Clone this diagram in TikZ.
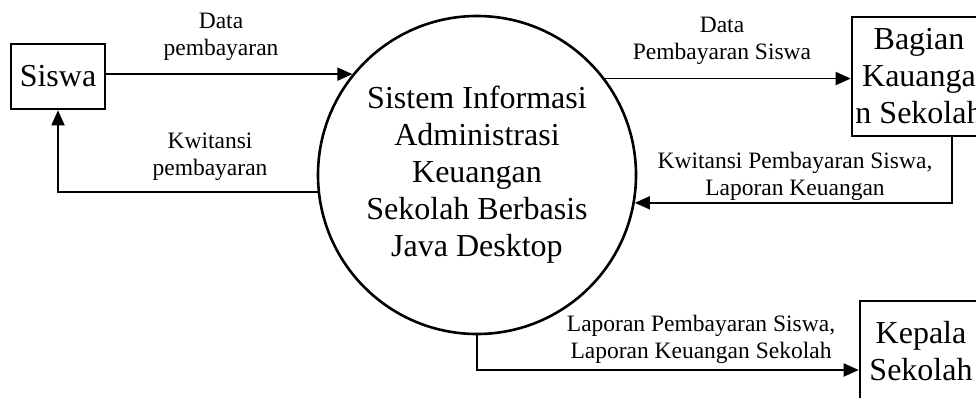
\documentclass[tikz,border=0pt]{standalone}
\usepackage{fontspec}
\setmainfont{Liberation Serif}
\usetikzlibrary{arrows.meta}
\begin{document}
\begin{tikzpicture}[x=1pt,y=-1pt,
  ent/.style={draw,line width=2.6pt,rectangle,inner sep=0pt,align=center,font=\fontsize{32}{37}\selectfont},
  proc/.style={draw,line width=2.6pt,circle,inner sep=0pt,minimum size=318pt,align=center,font=\fontsize{32}{37}\selectfont},
  lbl/.style={align=center,inner sep=0pt,font=\fontsize{23.5}{27}\selectfont},
  flow/.style={line width=1.8pt,-{Triangle[length=15pt,width=13pt]}}]
\useasboundingbox (0,0) rectangle (976,397);
\clip (0,0) rectangle (976,397);
\node[ent,minimum width=94pt,minimum height=65pt] (siswa) at (58,76.5) {Siswa};
\node[proc] (sys) at (477,175) {Sistem Informasi\\Administrasi\\Keuangan\\Sekolah Berbasis\\Java Desktop};
\node[ent,minimum width=134pt,minimum height=119pt] (bag) at (919,76.5) {Bagian\\Kauanga\\n Sekolah};
\node[ent,minimum width=122pt,minimum height=100pt] (kep) at (921,351) {Kepala\\Sekolah};
\coordinate (b1) at ([xshift=33pt]bag.south);
\coordinate (k1) at ([yshift=-19pt]kep.west);
\draw[flow] (siswa.east |- sys.141) -- (sys.141);
\draw[flow] (sys.186) -| (siswa.south);
\draw[flow] (sys.37.6) -- (sys.37.6 -| bag.west);
\draw[flow] (b1) |- (sys.-10.9);
\draw[flow] (sys.south) |- (k1);
\node[lbl] (l1) at (221,36.5) {Data\\pembayaran};
\node[lbl] (l2) at (210,156.5) {Kwitansi\\pembayaran};
\node[lbl] (l3) at (722,40.5) {Data\\Pembayaran Siswa};
\node[lbl] (l4) at (795,176.5) {Kwitansi Pembayaran Siswa,\\Laporan Keuangan};
\node[lbl] (l5) at (701,339.5) {Laporan Pembayaran Siswa,\\Laporan Keuangan Sekolah};
\end{tikzpicture}
\end{document}
